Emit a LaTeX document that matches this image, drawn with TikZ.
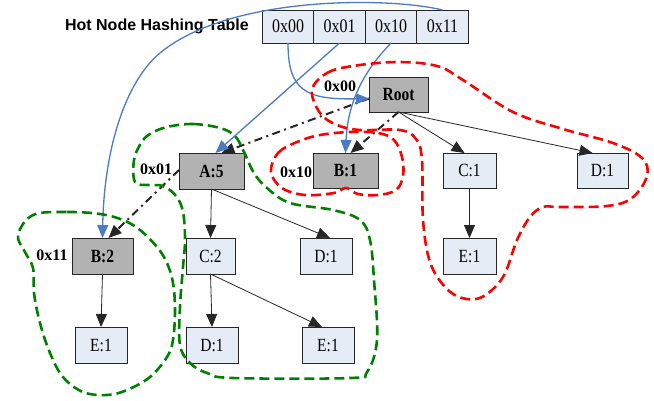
\documentclass[tikz,border=0pt]{standalone}
\usepackage{fontspec}
\usepackage{graphicx}
\setmainfont{Liberation Serif}
\newfontfamily\titlefont{Liberation Sans}
\usetikzlibrary{arrows.meta}
\definecolor{boxfill}{HTML}{E6ECF6}
\definecolor{hotfill}{HTML}{B2B2B2}
\definecolor{linkblue}{HTML}{4A7BC4}
\definecolor{zonegreen}{HTML}{008000}
\definecolor{zonered}{HTML}{FF0000}
% node labels are set a little taller than wide
\newcommand{\tall}[1]{\scalebox{1}[1.2]{#1}}
\begin{document}
\begin{tikzpicture}[x=1pt,y=1pt,
  box/.style={draw=black!85, line width=0.8pt, fill=boxfill, inner sep=0pt, outer sep=0pt,
    minimum height=36pt, font=\fontsize{15.5}{15.5}\selectfont},
  hotbox/.style={box, fill=hotfill, font=\fontsize{15.5}{15.5}\selectfont\bfseries},
  cell/.style={box, minimum width=51.5pt, minimum height=33pt, font=\fontsize{16}{16}\selectfont},
  tag/.style={font=\fontsize{16}{16}\selectfont\bfseries, inner sep=0pt},
  tip/.style={-{Triangle[length=13pt,width=11pt]}},
  child/.style={tip, draw=black!85, line width=0.8pt},
  hotlink/.style={tip, draw=black!85, line width=2pt, dash pattern=on 8pt off 4.5pt on 2pt off 4.5pt},
  bluelink/.style={tip, draw=linkblue, line width=1.3pt},
  zone/.style={line width=2.6pt, dash pattern=on 10pt off 5pt},
  redzone/.style={zone, draw=zonered},
  greenzone/.style={zone, draw=zonegreen}]
\useasboundingbox (0,0) rectangle (654,-400);

% hashing table
\node[font=\titlefont\fontsize{16}{16}\selectfont\bfseries, anchor=east, inner sep=0pt] (title) at (249,-26) {Hot Node Hashing Table};
\node[cell] (c00) at (288,-26.5) {\tall{0x00}};
\node[cell] (c01) at (339.5,-26.5) {\tall{0x01}};
\node[cell] (c10) at (391,-26.5) {\tall{0x10}};
\node[cell] (c11) at (442.5,-26.5) {\tall{0x11}};

% tree nodes
\node[hotbox, minimum width=59pt, minimum height=35pt] (root) at (398.5,-94.5) {\tall{Root}};
\node[hotbox, minimum width=65pt, minimum height=35pt] (b1) at (345.5,-170.5) {\tall{B:1}};
\node[box, minimum width=53pt, minimum height=35pt] (c1) at (469.5,-170.5) {\tall{C:1}};
\node[box, minimum width=51pt, minimum height=35pt] (d1a) at (602.5,-170.5) {\tall{D:1}};
\node[hotbox, minimum width=65pt] (a5) at (211.5,-171) {\tall{A:5}};
\node[hotbox, minimum width=61pt] (b2) at (102.5,-256) {\tall{B:2}};
\node[box, minimum width=49pt] (c2) at (210.5,-256) {\tall{C:2}};
\node[box, minimum width=52pt] (d1b) at (326,-256) {\tall{D:1}};
\node[box, minimum width=53pt] (e1c) at (469.5,-256) {\tall{E:1}};
\node[box, minimum width=52pt] (e1a) at (101,-345) {\tall{E:1}};
\node[box, minimum width=52pt] (d1c) at (212,-345) {\tall{D:1}};
\node[box, minimum width=52pt] (e1b) at (328,-345) {\tall{E:1}};

% hash keys of the hot nodes
\node[tag] (t00) at (340,-86) {0x00};
\node[tag] (t10) at (296,-172) {0x10};
\node[tag] (t01) at (156,-169) {0x01};
\node[tag] (t11) at (52,-255) {0x11};

% tree edges
\draw[child] (root.south) -- ([xshift=-5pt]c1.north);
\draw[child] (root.south) -- ([xshift=-10pt]d1a.north);
\draw[child] (a5.south) -- (c2.north);
\draw[child] (a5.south) -- ([xshift=4pt]d1b.north);
\draw[child] (c1.south) -- (e1c.north);
\draw[child] (b2.south) -- (e1a.north);
\draw[child] (c2.south) -- (d1c.north);
\draw[child] (c2.south) -- ([xshift=-6pt]e1b.north);

% hot paths
\draw[hotlink] ([yshift=-4pt]root.west) -- ([xshift=10pt]a5.north);
\draw[hotlink] (root.south) -- ([xshift=5pt]b1.north);
\draw[hotlink] ([yshift=1pt]a5.west) -- ([xshift=6pt]b2.north);

% table entries pointing at the hot nodes
\draw[bluelink] (c00.south) .. controls (288,-90) and (305,-100) .. ([yshift=-4pt]root.west);
\draw[bluelink] (c01.south) -- ([xshift=4pt]a5.north);
\draw[bluelink] (c10.south) .. controls (370,-65) and (348,-95) .. (b1.north);
\draw[bluelink] (c11.north) .. controls (390,3) and (230,5) .. (160,-53)
  .. controls (125,-82) and (104,-150) .. (b2.north);

% red groups
\draw[redzone] plot[smooth cycle, tension=0.6] coordinates {
  (312,-90) (327,-73) (353,-66) (397,-62) (437,-66) (463,-80) (513,-112) (563,-129)
  (613,-143) (642,-158) (647,-176) (632,-198) (607,-206) (560,-207) (543,-207)
  (530,-217) (517,-240) (503,-277) (482,-297) (462,-298) (445,-287) (430,-262)
  (423,-220) (422,-160) (416,-139) (400,-130) (360,-130) (337,-125) (320,-113)};
\draw[redzone] plot[smooth cycle, tension=0.6] coordinates {
  (271,-172) (278,-153) (297,-142) (320,-135) (350,-132) (378,-133) (394,-140)
  (402,-157) (403,-176) (396,-190) (378,-195) (358,-194) (346,-188) (334,-193)
  (305,-195) (282,-188)};

% green groups
\draw[greenzone] plot[smooth cycle, tension=0.6] coordinates {
  (167,-127) (193,-124) (220,-128) (235,-136) (244,-152) (254,-173) (267,-188)
  (290,-203) (333,-210) (360,-220) (370,-240) (374,-280) (377,-340) (367,-372)
  (350,-378) (233,-378) (207,-373) (190,-363) (180,-345) (180,-307) (183,-267)
  (185,-240) (183,-212) (176,-196) (163,-186) (148,-185) (135,-182) (134,-160)
  (141,-143) (150,-134)};
\draw[greenzone] plot[smooth cycle, tension=0.6] coordinates {
  (33,-215) (67,-212) (100,-214) (123,-220) (140,-230) (157,-247) (167,-263)
  (173,-283) (175,-310) (173,-340) (167,-357) (150,-377) (127,-390) (107,-395)
  (83,-392) (63,-377) (50,-353) (40,-323) (34,-293) (33,-268) (25,-252) (18,-235)};
\end{tikzpicture}
\end{document}
